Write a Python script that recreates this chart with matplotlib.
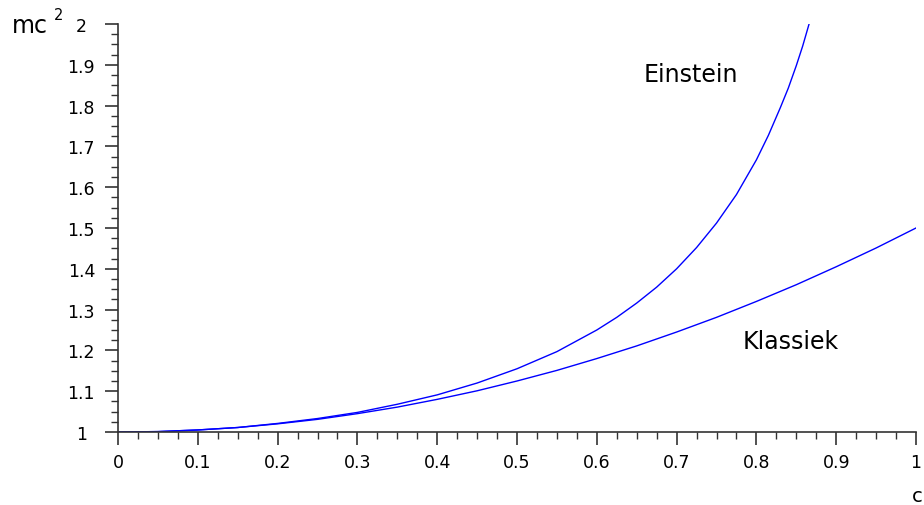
import numpy as np
import matplotlib
matplotlib.use("Agg")
import matplotlib.pyplot as plt
from matplotlib.ticker import MultipleLocator

# speed as fraction of c
v_einstein = [0.0, 0.05, 0.1, 0.15, 0.2, 0.25, 0.3, 0.35, 0.4, 0.45, 0.5,
              0.55, 0.6, 0.625, 0.65, 0.675, 0.7, 0.725, 0.75, 0.775, 0.8,
              0.815, 0.83, 0.84, 0.85, 0.858, 0.866]
e_einstein = [1.0, 1.001, 1.005, 1.011, 1.021, 1.033, 1.048, 1.068, 1.091, 1.120, 1.155,
              1.197, 1.250, 1.281, 1.316, 1.355, 1.400, 1.452, 1.512, 1.582, 1.667,
              1.727, 1.795, 1.843, 1.898, 1.946, 2.0]

v_klassiek = [0.0, 0.05, 0.1, 0.15, 0.2, 0.25, 0.3, 0.35, 0.4, 0.45, 0.5,
              0.55, 0.6, 0.65, 0.7, 0.75, 0.8, 0.85, 0.9, 0.95, 1.0]
e_klassiek = [1.0, 1.001, 1.005, 1.011, 1.020, 1.031, 1.045, 1.061, 1.080, 1.101, 1.125,
              1.151, 1.180, 1.211, 1.245, 1.281, 1.320, 1.361, 1.405, 1.451, 1.5]

fig = plt.figure(figsize=(9.24, 5.06), dpi=100, facecolor="white")
ax = fig.add_axes([118/924, 1-433/506, (916-118)/924, (433-25)/506])

ax.plot(v_einstein, e_einstein, color="#0000ff", lw=1.0)
ax.plot(v_klassiek, e_klassiek, color="#0000ff", lw=1.0)

ax.set_xlim(0, 1)
ax.set_ylim(1, 2)
ax.spines["top"].set_visible(False)
ax.spines["right"].set_visible(False)
for s in ("left", "bottom"):
    ax.spines[s].set_color("#333333")
    ax.spines[s].set_linewidth(1.2)

ax.xaxis.set_major_locator(MultipleLocator(0.1))
ax.xaxis.set_minor_locator(MultipleLocator(0.025))
ax.yaxis.set_major_locator(MultipleLocator(0.1))
ax.yaxis.set_minor_locator(MultipleLocator(0.025))
ax.xaxis.set_major_formatter(lambda x, p: "%g" % round(x, 2))
ax.yaxis.set_major_formatter(lambda y, p: "%g" % round(y, 2))

ax.tick_params(which="major", direction="out", length=9.4, width=1.2, color="#333333",
               labelsize=12.5)
ax.tick_params(which="minor", direction="out", length=5, width=1.0, color="#333333")
ax.tick_params(axis="x", which="major", pad=6)
ax.tick_params(axis="y", which="major", pad=17)
for lab in ax.get_yticklabels():
    lab.set_horizontalalignment("center")

ax.text(0.718, 1.877, "Einstein", fontsize=17, ha="center", va="center")
ax.text(0.843, 1.223, "Klassiek", fontsize=17, ha="center", va="center")

fig.text(12/924, 1-33/506, "mc", fontsize=17, ha="left", va="baseline")
fig.text(54/924, 1-20/506, "2", fontsize=10.5, ha="left", va="baseline")
fig.text(917/924, 1-502/506, "c", fontsize=14, ha="center", va="baseline")

fig.savefig("out.png", dpi=100, facecolor="white")
